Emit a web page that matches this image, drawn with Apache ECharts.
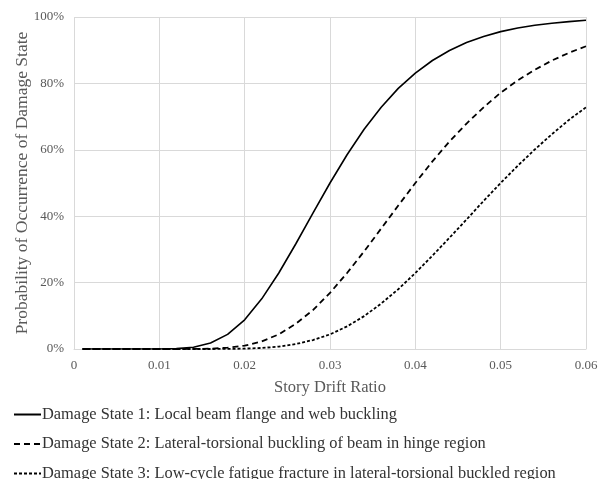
<!DOCTYPE html>
<html>
<head>
    <title>Damage State Fragility Curves</title>
    <script src="https://cdn.jsdelivr.net/npm/echarts/dist/echarts.min.js"></script>
</head>
<body style="margin:0;background:#fff;">
    <div id="main" style="width: 604px;height:479px;"></div>
    <script type="text/javascript">
        // story drift ratio samples
        var drift = [0.001, 0.004, 0.008, 0.010, 0.012, 0.014, 0.016, 0.018, 0.020, 0.022,
                     0.024, 0.026, 0.028, 0.030, 0.032, 0.034, 0.036, 0.038, 0.040, 0.042,
                     0.044, 0.046, 0.048, 0.050, 0.052, 0.054, 0.056, 0.058, 0.060];
        // probability of occurrence, %
        var ds1 = [0, 0, 0, 0.01, 0.11, 0.55, 1.8, 4.4, 8.8, 15.1,
                   22.9, 31.7, 40.9, 50.0, 58.5, 66.2, 72.8, 78.5, 83.1, 86.9,
                   89.9, 92.3, 94.1, 95.6, 96.7, 97.5, 98.1, 98.6, 99.0];
        var ds2 = [0, 0, 0, 0, 0, 0.02, 0.11, 0.39, 1.0, 2.3,
                   4.4, 7.6, 11.7, 16.9, 22.9, 29.4, 36.3, 43.2, 50.0, 56.5,
                   62.5, 67.9, 72.8, 77.2, 80.9, 84.1, 86.9, 89.2, 91.2];
        var ds3 = [0, 0, 0, 0, 0, 0, 0, 0.03, 0.11, 0.31,
                   0.72, 1.5, 2.7, 4.4, 6.8, 9.9, 13.7, 18.0, 22.9, 28.1,
                   33.5, 39.0, 44.6, 50.0, 55.2, 60.1, 64.7, 69.0, 72.8];
        var names = ['Damage State 1: Local beam flange and web buckling',
                     'Damage State 2: Lateral-torsional buckling of beam in hinge region',
                     'Damage State 3: Low-cycle fatigue fracture in lateral-torsional buckled region'];
        var dashes = ['solid', [6, 4], [3, 2]];
        var widths = [1.6, 1.8, 1.8];

        function pairs(ys) {
            return drift.map(function (x, i) { return [x, ys[i]]; });
        }

        var font = 'Liberation Serif';
        var myChart = echarts.init(document.getElementById('main'));

        // one legend per row so they stack like the original
        var legends = names.map(function (n, i) {
            return {
                orient: 'horizontal',
                left: 13,
                top: 402 + i * 29.5,
                padding: 0,
                itemWidth: 27,
                itemHeight: 12,
                itemGap: 0,
                itemStyle: { opacity: 0 },
                textStyle: { fontFamily: font, fontSize: 16.4, color: '#333', padding: [0, 0, 0, -4] },
                data: [n]
            };
        });

        var series = [ds1, ds2, ds3].map(function (ys, i) {
            return {
                name: names[i],
                type: 'line',
                data: pairs(ys),
                showSymbol: false,
                symbol: 'none',
                lineStyle: { color: '#000', width: widths[i], type: dashes[i] },
                itemStyle: { color: '#000' }
            };
        });

        var option = {
            animation: false,
            textStyle: { fontFamily: font },
            grid: { left: 74, right: 18, top: 17, bottom: 130, outerBoundsMode: 'none' },
            legend: legends,
            xAxis: {
                type: 'value',
                min: 0,
                max: 0.06,
                interval: 0.01,
                name: 'Story Drift Ratio',
                nameLocation: 'middle',
                nameGap: 26,
                nameMoveOverlap: false,
                nameTextStyle: { fontFamily: font, fontSize: 16.5, color: '#595959' },
                axisLine: { lineStyle: { color: '#d9d9d9' } },
                axisTick: { show: false },
                axisLabel: { fontFamily: font, fontSize: 13, color: '#595959', margin: 7 },
                splitLine: { lineStyle: { color: '#d9d9d9' } }
            },
            yAxis: {
                type: 'value',
                min: 0,
                max: 100,
                interval: 20,
                name: 'Probability of Occurrence of Damage State',
                nameLocation: 'middle',
                nameGap: 38,
                nameMoveOverlap: false,
                nameTextStyle: { fontFamily: font, fontSize: 17.5, color: '#595959' },
                axisLine: { show: false },
                axisTick: { show: false },
                axisLabel: { fontFamily: font, fontSize: 13, color: '#595959', margin: 10, formatter: '{value}%' },
                splitLine: { lineStyle: { color: '#d9d9d9' } }
            },
            series: series
        };

        myChart.setOption(option);
    </script>
</body>
</html>
